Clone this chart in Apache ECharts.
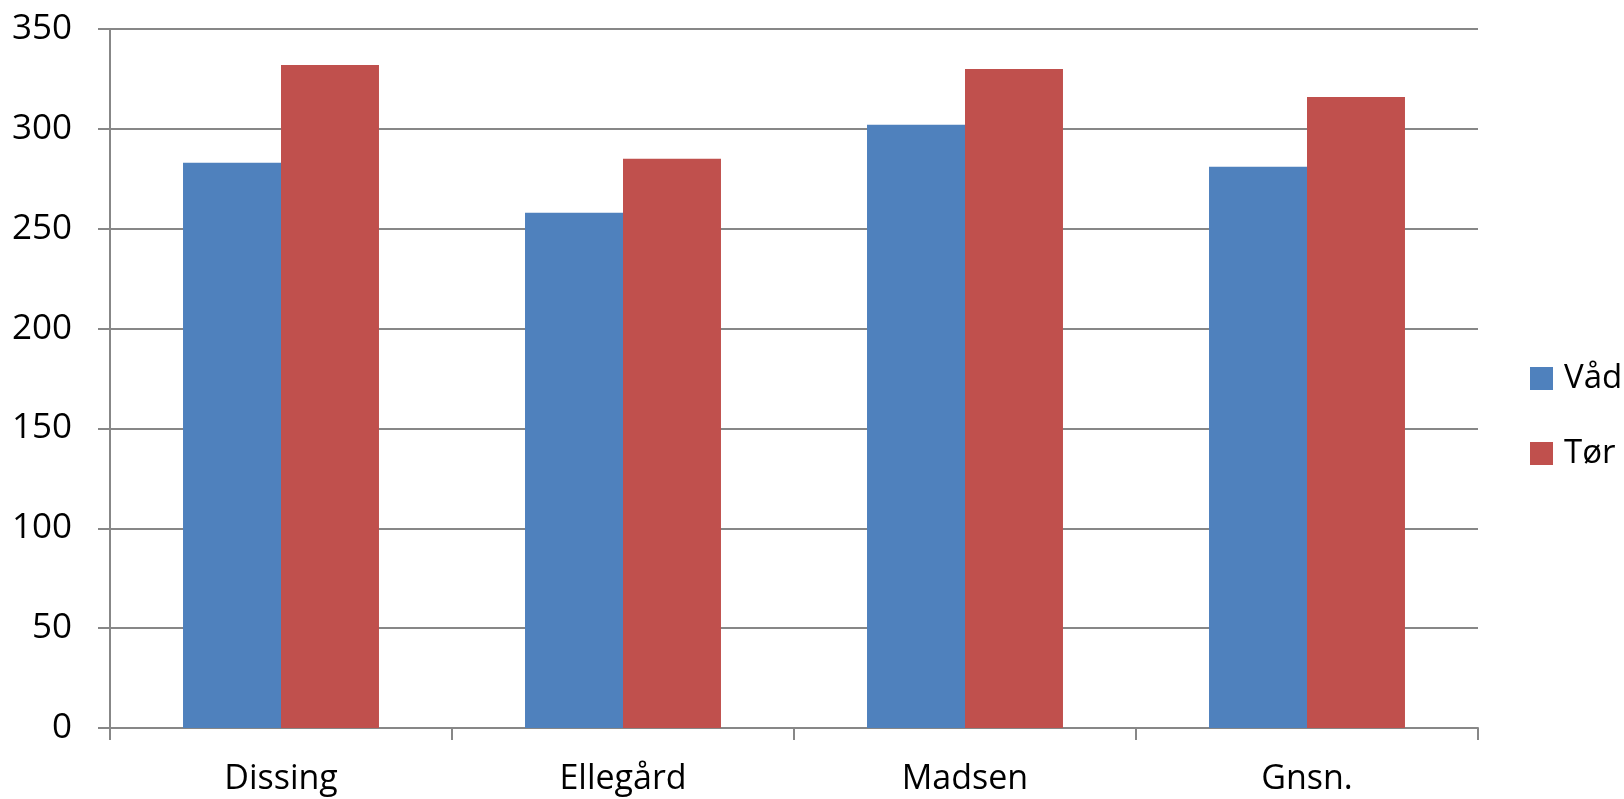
<!DOCTYPE html>
<html><head><meta charset="utf-8">
<script src="https://cdn.jsdelivr.net/npm/echarts@6/dist/echarts.min.js"></script>
<style>html,body{margin:0;padding:0;background:#fff}#c{width:1624px;height:799px}</style>
</head><body><div id="c"></div>
<script>
const categories = ["Dissing", "Ellegård", "Madsen", "Gnsn."];
const seriesNames = ["Våd", "Tør"];
const vaad = [283, 258, 302, 281];
const toer = [332, 285, 330, 316];
const yTicks = [0, 50, 100, 150, 200, 250, 300, 350];

const chart = echarts.init(document.getElementById('c'));
const gridColor = '#878787';
const font = '"Open Sans", sans-serif';
chart.setOption({
  animation: false,
  grid: {left: 110, right: 146, top: 29, bottom: 71},
  legend: {
    orient: 'vertical', left: 1525, top: 357,
    itemWidth: 23, itemHeight: 23, itemGap: 42,
    icon: 'rect',
    textStyle: {fontFamily: font, fontSize: 33, color: '#000', padding: [0,0,0,6]},
    data: seriesNames
  },
  xAxis: {
    type: 'category', data: categories,
    axisLine: {lineStyle: {color: gridColor, width: 2}},
    axisTick: {show: true, length: 12, lineStyle: {color: gridColor, width: 2}},
    axisLabel: {fontFamily: font, fontSize: 34, color: '#000', margin: 34}
  },
  yAxis: {
    type: 'value', min: yTicks[0], max: yTicks[yTicks.length-1], interval: 50,
    axisLine: {show: true, lineStyle: {color: gridColor, width: 2}},
    axisTick: {show: true, length: 12, lineStyle: {color: gridColor, width: 2}},
    splitLine: {lineStyle: {color: gridColor, width: 2}},
    axisLabel: {fontFamily: font, fontSize: 35, color: '#000', margin: 38}
  },
  series: [
    {name: seriesNames[0], type: 'bar', data: vaad, barGap: '0%', barCategoryGap: '42.7%', itemStyle: {color: '#4F81BD'}},
    {name: seriesNames[1], type: 'bar', data: toer, barGap: '0%', barCategoryGap: '42.7%', itemStyle: {color: '#C0504D'}}
  ]
});
</script></body></html>
